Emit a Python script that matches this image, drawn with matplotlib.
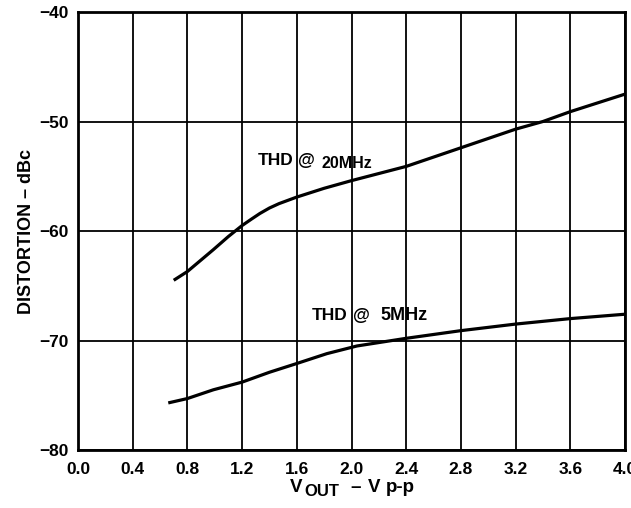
import matplotlib
matplotlib.use("Agg")
import matplotlib.pyplot as plt

# 20 MHz THD curve
x20 = [0.70, 0.80, 0.99, 1.10, 1.20, 1.27, 1.33, 1.40, 1.47, 1.60, 1.80, 2.00, 2.40, 2.80, 3.20, 3.40, 3.60, 4.00]
y20 = [-64.5, -63.7, -61.7, -60.5, -59.5, -58.9, -58.4, -57.9, -57.5, -56.9, -56.1, -55.4, -54.1, -52.4, -50.7, -50.0, -49.1, -47.5]

# 5 MHz THD curve
x5 = [0.66, 0.80, 0.99, 1.20, 1.40, 1.60, 1.82, 2.04, 2.40, 2.80, 3.20, 3.60, 4.00]
y5 = [-75.7, -75.3, -74.5, -73.8, -72.9, -72.1, -71.2, -70.5, -69.8, -69.1, -68.5, -68.0, -67.6]

xticks = [0.0, 0.4, 0.8, 1.2, 1.6, 2.0, 2.4, 2.8, 3.2, 3.6, 4.0]
xticklabels = ["0.0", "0.4", "0.8", "1.2", "1.6", "2.0", "2.4", "2.8", "3.2", "3.6", "4.0"]
yticks = [-80, -70, -60, -50, -40]
yticklabels = ["\u221280", "\u221270", "\u221260", "\u221250", "\u221240"]

plt.rcParams['font.family'] = ['Liberation Sans', 'DejaVu Sans']
plt.rcParams['font.weight'] = 'bold'

W, H = 631, 508
fig = plt.figure(figsize=(W / 100, H / 100), dpi=100)
ax = fig.add_axes([78/W, 1 - 450/H, (625 - 78)/W, (450 - 12)/H])

ax.set_xlim(0, 4)
ax.set_ylim(-80, -40)
ax.set_xticks(xticks)
ax.set_xticklabels(xticklabels, fontsize=12.5, fontweight='bold')
ax.set_yticks(yticks)
ax.set_yticklabels(yticklabels, fontsize=12.5, fontweight='bold')
ax.tick_params(axis='x', length=0, pad=9)
ax.tick_params(axis='y', length=0, pad=7)
ax.grid(True, color='black', linewidth=1.3)
for s in ax.spines.values():
    s.set_linewidth(2.0)

ax.plot(x20, y20, color='black', linewidth=2.3, solid_capstyle='butt', solid_joinstyle='round')
ax.plot(x5, y5, color='black', linewidth=2.3, solid_capstyle='butt', solid_joinstyle='round')

ax.text(1.316, -53.6, "THD", fontsize=12.5, fontweight='bold', va='center', ha='left')
ax.text(1.61, -53.6, "@", fontsize=12.5, fontweight='bold', va='center', ha='left')
ax.text(1.784, -53.8, "20MHz", fontsize=11.5, fontweight='bold', va='center', ha='left')
ax.text(1.71, -67.7, "THD", fontsize=12.5, fontweight='bold', va='center', ha='left')
ax.text(2.01, -67.7, "@", fontsize=12.5, fontweight='bold', va='center', ha='left')
ax.text(2.21, -67.7, "5MHz", fontsize=13, fontweight='bold', va='center', ha='left')

# x-axis label built from pieces: V, subscript OUT, dash, V, p-p
y_lab = 1 - 487/H
fig.text(290/W, y_lab, "V", fontsize=13.5, fontweight='bold', va='center', ha='left')
fig.text(304/W, y_lab - 4/H, "OUT", fontsize=12, fontweight='bold', va='center', ha='left')
fig.text(350/W, y_lab, "\u2013", fontsize=13.5, fontweight='bold', va='center', ha='left')
fig.text(368/W, y_lab, "V", fontsize=13.5, fontweight='bold', va='center', ha='left')
fig.text(386/W, y_lab, "p-p", fontsize=13.5, fontweight='bold', va='center', ha='left')

ax.set_ylabel("DISTORTION \u2013 dBc", fontsize=13, fontweight='bold', labelpad=3)

fig.savefig("out.png", dpi=100)
